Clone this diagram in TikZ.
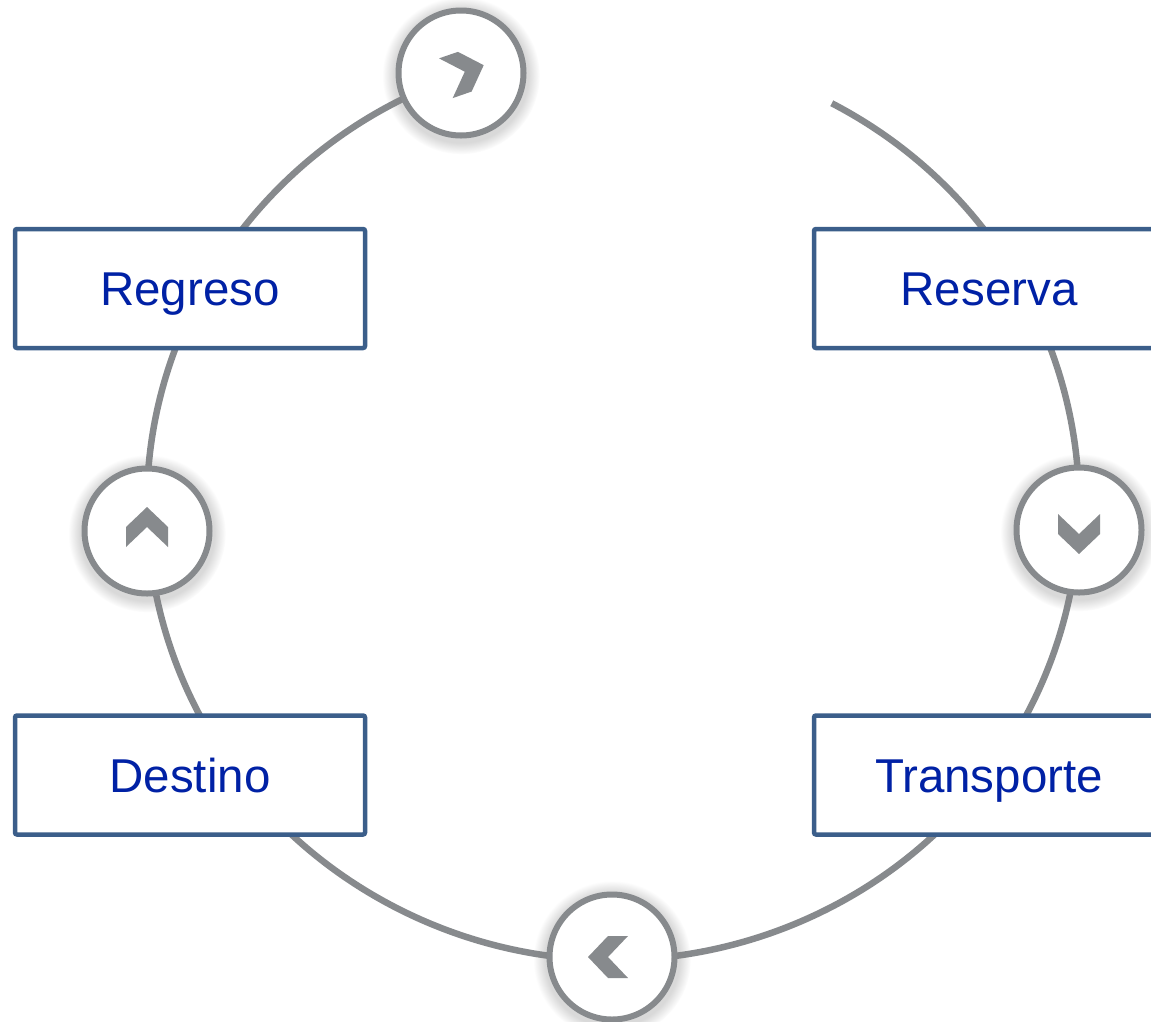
\documentclass[tikz,border=0pt]{standalone}
\usepackage{fontspec}
\setmainfont{Liberation Sans}
\usetikzlibrary{shadows}
\definecolor{ringgray}{RGB}{135,138,141}
\definecolor{boxblue}{RGB}{59,94,138}
\definecolor{textblue}{RGB}{0,33,165}
\begin{document}
\begin{tikzpicture}[x=1pt,y=-1pt,
  stage/.style={draw=boxblue,line width=4.5pt,fill=white,rounded corners=2pt,minimum width=350pt,minimum height=119pt,inner sep=0pt,text=textblue,font=\fontsize{47.5}{56}\selectfont,text height=34pt,text depth=0pt},
  hop/.style={circle,draw=ringgray,line width=6pt,fill=white,minimum size=125pt,inner sep=0pt,circular drop shadow={shadow xshift=0pt,shadow yshift=-2pt,shadow scale=1.26,opacity=0.3}},
  chev/.style={fill=ringgray}]

\useasboundingbox (0,0) rectangle (1151,1021);
\clip (0,0) rectangle (1151,1021);

% the ring, open at the top right
\coordinate (hub) at (613,505);
\draw[ringgray,line width=6.5pt] (hub) ++(-62:466 and 455) coordinate (gap)
  arc[start angle=-62,end angle=251,x radius=466,y radius=455];

\node[stage] (regreso) at (190,288.5) {Regreso};
\node[stage] (reserva) at (989,288.5) {Reserva};
\node[stage] (destino) at (190,775) {Destino};
\node[stage] (transporte) at (989,775) {Transporte};

\node[hop] (hopT) at (461,73) {};
\node[hop] (hopR) at (1079,530) {};
\node[hop] (hopB) at (612,957) {};
\node[hop] (hopL) at (147,531) {};

% chevrons follow the ring clockwise
\foreach \c/\a in {hopT/19,hopR/-90,hopB/180,hopL/90}
  \fill[chev,shift={(\c)},rotate=\a] (24,0)--(4,21)--(-16,21)--(4,0)--(-16,-21)--(4,-21)--cycle;

\end{tikzpicture}
\end{document}
